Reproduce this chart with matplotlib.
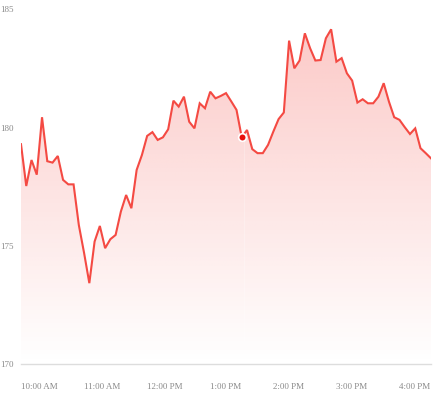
import numpy as np
import matplotlib
matplotlib.use("Agg")
import matplotlib.pyplot as plt
from matplotlib.colors import to_rgb

# price series, 5-minute steps from 10:00 AM
prices = [179.30, 177.53, 178.63, 178.01, 180.44, 178.58, 178.52, 178.80, 177.79, 177.60,
          177.60, 175.88, 174.70, 173.42, 175.18, 175.84, 174.90, 175.28, 175.46, 176.45,
          177.15, 176.59, 178.21, 178.84, 179.65, 179.81, 179.48, 179.59, 179.93, 181.14,
          180.89, 181.31, 180.25, 179.97, 181.03, 180.82, 181.52, 181.24, 181.34, 181.46,
          181.11, 180.75, 179.59, 179.90, 179.09, 178.92, 178.92, 179.27, 179.83, 180.36,
          180.64, 183.68, 182.51, 182.84, 183.99, 183.36, 182.84, 182.86, 183.78, 184.16,
          182.79, 182.94, 182.30, 181.99, 181.06, 181.20, 181.03, 181.03, 181.31, 181.88,
          181.10, 180.44, 180.33, 180.02, 179.73, 179.97, 179.13, 178.92, 178.70]
tick_labels = ['10:00 AM', '11:00 AM', '12:00 PM', '1:00 PM', '2:00 PM', '3:00 PM', '4:00 PM']
tick_idx = [0, 12, 24, 36, 48, 60, 72]
y_ticks = [170, 175, 180, 185]
hover_idx = 42

line_color = '#f44a43'
ymin, ymax = 170, 185.4

x = np.arange(len(prices))
y = np.array(prices)

fig = plt.figure(figsize=(4.33, 3.95), dpi=100)
ax = fig.add_axes([21 / 433, 31 / 395, 410 / 433, 364 / 395])
ax.set_xlim(0, len(prices) - 1)
ax.set_ylim(ymin, ymax)

# gradient fill under the line
r, g, b = to_rgb(line_color)
grad = np.zeros((256, 2, 4))
grad[:, :, 0], grad[:, :, 1], grad[:, :, 2] = r, g, b
grad[:, :, 3] = np.linspace(0.32, 0.0, 256)[:, None]
poly = ax.fill_between(x, y, ymin, color='none', lw=0)
img = ax.imshow(grad, aspect='auto', extent=[0, len(prices) - 1, ymin, ymax],
                origin='upper', zorder=1, interpolation='bilinear')
img.set_clip_path(poly.get_paths()[0], transform=ax.transData)

ax.axvline(hover_idx + 0.45, color='white', lw=0.6, alpha=0.3, zorder=2)
ax.plot(x, y, color=line_color, lw=1.5, zorder=3, solid_joinstyle='miter')
ax.plot([hover_idx], [y[hover_idx]], 'o', ms=5.5, color='#e8100c',
        mec='white', mew=1.2, zorder=4)

for s in ['top', 'right', 'left']:
    ax.spines[s].set_visible(False)
ax.spines['bottom'].set_color('#dddddd')
ax.spines['bottom'].set_linewidth(1)

ax.set_yticks(y_ticks)
ax.set_yticklabels([str(v) for v in y_ticks])
ax.set_xticks(tick_idx)
ax.set_xticklabels(tick_labels, ha='left')
ax.tick_params(length=0, colors='#8a8a8a', labelsize=6.5)
ax.tick_params(axis='y', pad=5)
ax.tick_params(axis='x', pad=14)
for lab in ax.get_xticklabels() + ax.get_yticklabels():
    lab.set_fontfamily('Liberation Serif')

fig.savefig('out.png', dpi=100)
